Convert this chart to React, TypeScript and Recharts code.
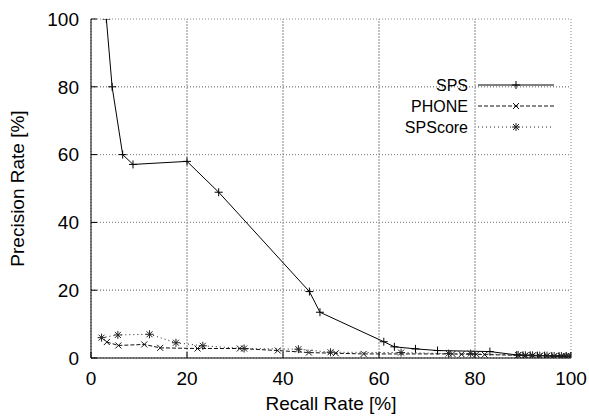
import React from 'react';
import { LineChart, Line, XAxis, YAxis, CartesianGrid, Legend, ReferenceLine } from 'recharts';

const axisTicks = [0, 20, 40, 60, 80, 100];

const spsRecall = [3.2, 4.4, 6.6, 8.75, 20, 26.6, 45.5, 47.7, 61, 63.2, 67.6, 72.2, 83.1, 88.7, 90, 91.5, 93, 94.5, 96, 97.5, 99, 100];
const spsPrecision = [100, 80, 60, 57.1, 58, 48.9, 19.6, 13.5, 4.8, 3.3, 2.7, 2.2, 1.9, 0.9, 0.8, 0.8, 0.7, 0.7, 0.6, 0.6, 0.5, 0.5];

const phoneRecall = [3.3, 5.7, 11.1, 14.4, 22.2, 31, 38.9, 45.4, 51, 56.8, 75.3, 77.2, 80.3, 82, 89, 90.5, 92, 93.5, 95, 96.5, 98, 99, 100];
const phonePrecision = [4.7, 3.7, 4.0, 3.0, 2.8, 2.8, 2.2, 1.6, 1.4, 1.2, 1.2, 1.1, 1.1, 1.0, 0.8, 0.7, 0.7, 0.6, 0.6, 0.5, 0.5, 0.5, 0.5];

const spscoreRecall = [2.2, 5.6, 12.2, 17.7, 23.3, 31.9, 43.2, 49.9, 64.6, 74.5, 79.1, 89, 90.5, 92, 93.5, 95, 96.5, 98, 99, 100];
const spscorePrecision = [6.0, 6.8, 7.0, 4.5, 3.6, 2.8, 2.6, 1.7, 1.6, 1.3, 1.3, 0.9, 0.8, 0.8, 0.7, 0.7, 0.6, 0.6, 0.6, 0.5];

const seriesNames = ['SPS', 'PHONE', 'SPScore'];

const toRows = (xs: number[], ys: number[]) => xs.map((x, i) => ({ recall: x, precision: ys[i] }));
const spsData = toRows(spsRecall, spsPrecision);
const phoneData = toRows(phoneRecall, phonePrecision);
const spscoreData = toRows(spscoreRecall, spscorePrecision);

const FONT = 'Liberation Sans, Arial, Helvetica, sans-serif';
const tickStyle = { fontSize: 19, fill: '#000', fontFamily: FONT };

const markPlus = (cx: number, cy: number, c: string) => (
  <>
    <line x1={cx - 4} y1={cy} x2={cx + 4} y2={cy} stroke={c} strokeWidth={1} />
    <line x1={cx} y1={cy - 4} x2={cx} y2={cy + 4} stroke={c} strokeWidth={1} />
  </>
);
const markCross = (cx: number, cy: number, c: string) => (
  <>
    <line x1={cx - 3} y1={cy - 3} x2={cx + 3} y2={cy + 3} stroke={c} strokeWidth={1} />
    <line x1={cx - 3} y1={cy + 3} x2={cx + 3} y2={cy - 3} stroke={c} strokeWidth={1} />
  </>
);
const markStar = (cx: number, cy: number, c: string) => (
  <>
    {markPlus(cx, cy, c)}
    {markCross(cx, cy, c)}
  </>
);

const makeDot = (kind: string, color: string) => (p: any) => {
  const { cx, cy, index } = p;
  if (cx == null || cy == null) return <g key={`d-${kind}-${index}`} />;
  const m = kind === 'plus' ? markPlus(cx, cy, color) : kind === 'cross' ? markCross(cx, cy, color) : markStar(cx, cy, color);
  return <g key={`d-${kind}-${index}`}>{m}</g>;
};

const styles = [
  { name: seriesNames[0], dash: undefined as string | undefined, kind: 'plus', color: '#000' },
  { name: seriesNames[1], dash: '4 2', kind: 'cross', color: '#111' },
  { name: seriesNames[2], dash: '1 3', kind: 'star', color: '#222' },
];

const YTitle = (props: any) => {
  const vb = props.viewBox || { x: 0, y: 19, width: 91, height: 339 };
  const cx = vb.x + 17;
  const cy = vb.y + vb.height / 2;
  return (
    <text x={cx} y={cy} transform={`rotate(-90, ${cx}, ${cy})`} textAnchor="middle" dominantBaseline="central"
      fontSize={19} fontFamily={FONT} fill="#000">
      Precision Rate [%]
    </text>
  );
};

const XTitle = (props: any) => {
  const vb = props.viewBox || { x: 91, y: 358, width: 480, height: 60 };
  const cx = vb.x + vb.width / 2;
  return (
    <text x={cx} y={410} textAnchor="middle" fontSize={19} fontFamily={FONT} fill="#000">
      Recall Rate [%]
    </text>
  );
};

const LegendBox = () => (
  <svg width={195} height={70} style={{ display: 'block', overflow: 'visible' }}>
    {styles.map((s, i) => {
      const y = 11 + i * 21;
      return (
        <g key={s.name}>
          <text x={88} y={y} textAnchor="end" dominantBaseline="central" fontSize={16} fontFamily={FONT} fill="#000">{s.name}</text>
          <line x1={98} y1={y} x2={174} y2={y} stroke={s.color} strokeWidth={1} strokeDasharray={s.dash} />
          {s.kind === 'plus' ? markPlus(136, y, s.color) : s.kind === 'cross' ? markCross(136, y, s.color) : markStar(136, y, s.color)}
        </g>
      );
    })}
  </svg>
);

const gridValues = axisTicks.slice(1, -1);

export default function App() {
  return (
    <div style={{ position: 'absolute', left: 0, top: 0, width: 589, height: 418, background: '#fff' }}>
      <LineChart width={589} height={418} margin={{ top: 19, right: 18, bottom: 0, left: 0 }}>
        <CartesianGrid xAxisId={0} yAxisId={0} stroke="#888" strokeDasharray="1 2" />
        <XAxis xAxisId={0} dataKey="recall" type="number" domain={[0, 100]} ticks={axisTicks} allowDataOverflow
          height={60} tickSize={-6} tickMargin={20} tick={tickStyle} stroke="#000"
          axisLine={{ stroke: '#000' }} tickLine={{ stroke: '#000' }} label={<XTitle />} />
        <XAxis xAxisId="top" orientation="top" type="number" domain={[0, 100]} ticks={axisTicks} height={0}
          tickSize={-6} tickFormatter={() => ''} axisLine={{ stroke: '#000' }} tickLine={{ stroke: '#000' }} />
        <YAxis yAxisId={0} type="number" domain={[0, 100]} ticks={axisTicks} allowDataOverflow width={91}
          tickSize={-6} tickMargin={18} tick={tickStyle} axisLine={{ stroke: '#000' }} tickLine={{ stroke: '#000' }}
          label={<YTitle />} />
        <YAxis yAxisId="right" orientation="right" type="number" domain={[0, 100]} ticks={axisTicks} width={0}
          tickSize={-6} tickFormatter={() => ''} axisLine={{ stroke: '#000' }} tickLine={{ stroke: '#000' }} />
        {gridValues.map((v) => (
          <ReferenceLine key={`gx-${v}`} xAxisId={0} yAxisId={0} x={v} stroke="#888" strokeDasharray="1 2" strokeWidth={1} ifOverflow="hidden" />
        ))}
        {gridValues.map((v) => (
          <ReferenceLine key={`gy-${v}`} xAxisId={0} yAxisId={0} y={v} stroke="#888" strokeDasharray="1 2" strokeWidth={1} ifOverflow="hidden" />
        ))}
        <Legend layout="horizontal" verticalAlign="middle" align="center" content={<LegendBox />}
          wrapperStyle={{ position: 'absolute', left: 380, top: 74, width: 195, height: 70 }} />
        <Line data={spsData} dataKey="precision" name={styles[0].name} stroke={styles[0].color} strokeWidth={1}
          dot={makeDot('plus', styles[0].color)} activeDot={false} isAnimationActive={false} type="linear" />
        <Line data={phoneData} dataKey="precision" name={styles[1].name} stroke={styles[1].color} strokeWidth={1}
          strokeDasharray={styles[1].dash} dot={makeDot('cross', styles[1].color)} activeDot={false} isAnimationActive={false} type="linear" />
        <Line data={spscoreData} dataKey="precision" name={styles[2].name} stroke={styles[2].color} strokeWidth={1}
          strokeDasharray={styles[2].dash} dot={makeDot('star', styles[2].color)} activeDot={false} isAnimationActive={false} type="linear" />
      </LineChart>
    </div>
  );
}
